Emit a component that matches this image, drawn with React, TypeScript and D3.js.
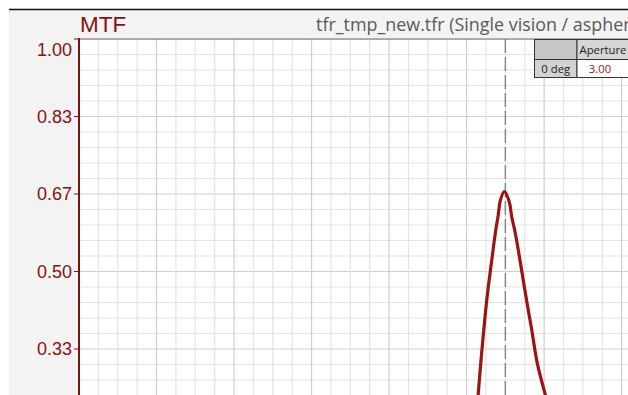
import React from "react";
import * as d3 from "d3";

// ---- data ----
const yTickValues = [0, 1 / 6, 2 / 6, 3 / 6, 4 / 6, 5 / 6, 1];
const yTickLabels = ["0.00", "0.17", "0.33", "0.50", "0.67", "0.83", "1.00"];
const focusShift = [
  -0.0765, -0.0699, -0.0635, -0.0557, -0.047, -0.0361, -0.0248, -0.019, -0.0125, -0.0025,
  0.01, 0.0163, 0.0248, 0.039, 0.0531, 0.0681, 0.0823, 0.1022, 0.115,
];
const mtfValues = [
  0.181, 0.238, 0.303, 0.374, 0.446, 0.518, 0.589, 0.618, 0.654, 0.672,
  0.65, 0.618, 0.586, 0.518, 0.446, 0.374, 0.303, 0.238, 0.202,
];
const xStart = -1.1;
const xMinorStep = 0.05;
const xMinorCount = 31;
const bestFocus = 0;
const title = "MTF";
const subtitle = "tfr_tmp_new.tfr (Single vision / aspheric)";
const tableHeader = ["", "Aperture"];
const tableRow = ["0 deg", "3.00"];

export default function App() {
  const W = 628;
  const H = 395;
  const left = 79;
  const top = 39;
  const pxPerUnit = 387.6;
  const x = d3
    .scaleLinear()
    .domain([xStart, xStart + 1.5])
    .range([left, left + 1.5 * pxPerUnit]);
  const y = d3.scaleLinear().domain([0, 1]).range([top + 465, top]);

  const xMinor = d3.range(xMinorCount).map((i) => ({ v: xStart + i * xMinorStep, major: i % 4 === 0 }));
  const yMinor = d3.range(0, 31).map((i) => ({ v: i / 30, major: i % 5 === 0 }));

  const pts = focusShift.map((s, i) => [s, mtfValues[i]] as [number, number]);
  const line = d3
    .line<[number, number]>()
    .x((d) => x(d[0]))
    .y((d) => y(d[1]))
    .curve(d3.curveCatmullRom.alpha(0.5));

  const red = "#8b0f0f";
  const tX = 534.5;
  const tY = 39.5;
  const c1 = 42.5;
  const c2 = 60;
  const r1 = 20;
  const r2 = 18;

  return (
    <svg
      width={W}
      height={H}
      style={{ position: "fixed", left: 0, top: 0, background: "#fff" }}
    >
      <defs>
        <clipPath id="plot">
          <rect x={left} y={top} width={W - left} height={H - top} />
        </clipPath>
        <clipPath id="page">
          <rect x={0} y={0} width={W} height={H} />
        </clipPath>
      </defs>
      <rect x={9} y={9.5} width={W - 9} height={H} fill="#f3f3f3" />
      <line x1={9} x2={W} y1={9.5} y2={9.5} stroke="#111" strokeWidth={1.3} />
      <rect x={left} y={top} width={W - left} height={H - top} fill="#fff" />
      <g clipPath="url(#plot)">
        {yMinor.map((d, i) => (
          <line
            key={"h" + i}
            x1={left}
            x2={W}
            y1={y(d.v)}
            y2={y(d.v)}
            stroke={d.major ? "#cfcfcf" : "#e4e4e4"}
            strokeWidth={1.2}
          />
        ))}
        {xMinor.map((d, i) => (
          <line
            key={"v" + i}
            x1={x(d.v)}
            x2={x(d.v)}
            y1={top}
            y2={H}
            stroke={d.major ? "#cfcfcf" : "#e4e4e4"}
            strokeWidth={1.2}
          />
        ))}
        <line
          x1={x(bestFocus)}
          x2={x(bestFocus)}
          y1={top}
          y2={H}
          stroke="#858585"
          strokeWidth={1.4}
          strokeDasharray="14,4"
        />
        <path
          d={line(pts) || ""}
          fill="none"
          stroke="#9a1414"
          strokeWidth={3.2}
          strokeLinejoin="round"
        />
      </g>
      <line x1={left} x2={W} y1={top} y2={top} stroke="#6a6a6a" strokeWidth={1.2} />
      <line x1={left} x2={left} y1={top - 1} y2={H} stroke="#7a1010" strokeWidth={2} />
      {yTickValues.map((v, i) =>
        y(v) <= H ? (
          <g key={"t" + i}>
            <line x1={left - 5} x2={left} y1={y(v)} y2={y(v)} stroke={red} strokeWidth={1} />
            <text
              x={72}
              y={v === 1 ? y(v) + 11 : y(v)}
              dy="0.35em"
              textAnchor="end"
              fontFamily="Liberation Sans, Arial, sans-serif"
              fontSize={18}
              fill={red}
            >
              {yTickLabels[i]}
            </text>
          </g>
        ) : null
      )}
      <text x={80} y={32} fontFamily="Liberation Sans, Arial, sans-serif" fontSize={22.5} fill={red}>
        {title}
      </text>
      <g clipPath="url(#page)">
        <text x={316} y={31} fontFamily="Open Sans, sans-serif" fontSize={17.9} fill="#5a5a5a">
          {subtitle}
        </text>
      </g>
      <g fontFamily="Open Sans, sans-serif" fontSize={11.3}>
        <rect x={tX} y={tY} width={c1} height={r1} fill="#c6c6c6" stroke="#333" />
        <rect x={tX + c1} y={tY} width={c2} height={r1} fill="#d6d6d6" stroke="#333" />
        <rect x={tX} y={tY + r1} width={c1} height={r2} fill="#d2d2d2" stroke="#333" />
        <rect x={tX + c1} y={tY + r1} width={c2} height={r2} fill="#fff" stroke="#333" />
        <text x={tX + c1 + 2.5} y={tY + 14} fill="#222">{tableHeader[1]}</text>
        <text x={tX + c1 / 2} y={tY + r1 + 13} textAnchor="middle" fill="#222">{tableRow[0]}</text>
        <text x={tX + c1 + 23} y={tY + r1 + 13} textAnchor="middle" fill="#9a1a1a">{tableRow[1]}</text>
      </g>
    </svg>
  );
}
